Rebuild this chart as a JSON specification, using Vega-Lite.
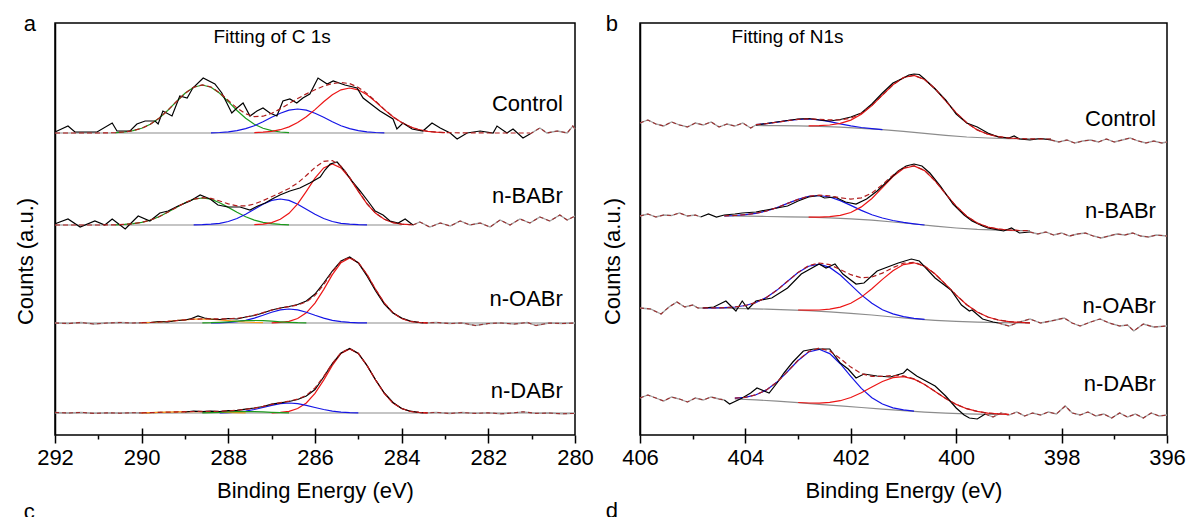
{
"$schema":"https://vega.github.io/schema/vega-lite/v6.json",
"padding":{"left":13,"top":12,"right":0,"bottom":0},
"spacing":5,
"config":{"view":{"stroke":"black","strokeWidth":1.5},"axis":{"labelFont":"Liberation Sans","titleFont":"Liberation Sans"},"text":{"font":"Liberation Sans","color":"black"}},
"datasets":{
"a":[
{"c":"bg","s":"C","x":292,"y":302},{"c":"bg","s":"C","x":283.5,"y":302},
{"c":"bg","s":"B","x":292,"y":210},{"c":"bg","s":"B","x":284,"y":210},
{"c":"bg","s":"O","x":292,"y":112},{"c":"bg","s":"O","x":280,"y":112},
{"c":"bg","s":"D","x":292,"y":22},{"c":"bg","s":"D","x":280,"y":22},
{"c":"raw","s":"C","x":292.0,"y":303},{"c":"raw","s":"C","x":291.95,"y":304},{"c":"raw","s":"C","x":291.7,"y":309},{"c":"raw","s":"C","x":291.54,"y":303},{"c":"raw","s":"C","x":291.28,"y":303},{"c":"raw","s":"C","x":291.03,"y":303},{"c":"raw","s":"C","x":290.68,"y":312},{"c":"raw","s":"C","x":290.57,"y":304},{"c":"raw","s":"C","x":290.27,"y":304},{"c":"raw","s":"C","x":290.11,"y":311},{"c":"raw","s":"C","x":289.92,"y":314},{"c":"raw","s":"C","x":289.69,"y":314},{"c":"raw","s":"C","x":289.62,"y":311},{"c":"raw","s":"C","x":289.51,"y":324},{"c":"raw","s":"C","x":289.3,"y":319},{"c":"raw","s":"C","x":289.12,"y":339},{"c":"raw","s":"C","x":288.95,"y":337},{"c":"raw","s":"C","x":288.82,"y":347},{"c":"raw","s":"C","x":288.58,"y":357},{"c":"raw","s":"C","x":288.31,"y":351},{"c":"raw","s":"C","x":288.15,"y":342},{"c":"raw","s":"C","x":287.92,"y":322},{"c":"raw","s":"C","x":287.8,"y":327},{"c":"raw","s":"C","x":287.66,"y":332},{"c":"raw","s":"C","x":287.5,"y":319},{"c":"raw","s":"C","x":287.34,"y":324},{"c":"raw","s":"C","x":287.2,"y":327},{"c":"raw","s":"C","x":287.04,"y":322},{"c":"raw","s":"C","x":286.88,"y":319},{"c":"raw","s":"C","x":286.74,"y":334},{"c":"raw","s":"C","x":286.58,"y":336},{"c":"raw","s":"C","x":286.42,"y":332},{"c":"raw","s":"C","x":286.28,"y":337},{"c":"raw","s":"C","x":286.12,"y":341},{"c":"raw","s":"C","x":285.93,"y":357},{"c":"raw","s":"C","x":285.72,"y":351},{"c":"raw","s":"C","x":285.58,"y":354},{"c":"raw","s":"C","x":285.31,"y":350},{"c":"raw","s":"C","x":285.03,"y":347},{"c":"raw","s":"C","x":284.89,"y":337},{"c":"raw","s":"C","x":284.5,"y":324},{"c":"raw","s":"C","x":284.2,"y":316},{"c":"raw","s":"C","x":284.11,"y":306},{"c":"raw","s":"C","x":283.97,"y":312},{"c":"raw","s":"C","x":283.76,"y":306},{"c":"raw","s":"C","x":283.51,"y":304},{"c":"raw","s":"C","x":283.3,"y":312},{"c":"raw","s":"C","x":283.11,"y":307},{"c":"raw","s":"C","x":282.88,"y":302},{"c":"raw","s":"C","x":282.72,"y":296},{"c":"raw","s":"C","x":282.49,"y":302},{"c":"raw","s":"C","x":282.19,"y":304},{"c":"raw","s":"C","x":281.89,"y":302},{"c":"raw","s":"C","x":281.8,"y":309},{"c":"raw","s":"C","x":281.57,"y":302},{"c":"raw","s":"C","x":281.43,"y":306},{"c":"raw","s":"C","x":281.2,"y":297},{"c":"raw","s":"C","x":281.04,"y":301},
{"c":"out","s":"C2","x":281.04,"y":301},{"c":"out","s":"C2","x":280.81,"y":307},{"c":"out","s":"C2","x":280.65,"y":302},{"c":"out","s":"C2","x":280.41,"y":304},{"c":"out","s":"C2","x":280.18,"y":302},{"c":"out","s":"C2","x":280.05,"y":309},{"c":"out","s":"C2","x":280.0,"y":306},
{"c":"g","s":"C","x":290.6,"y":302.4},{"c":"g","s":"C","x":290.4,"y":303.0},{"c":"g","s":"C","x":290.2,"y":304.3},{"c":"g","s":"C","x":290.0,"y":306.7},{"c":"g","s":"C","x":289.8,"y":310.7},{"c":"g","s":"C","x":289.6,"y":316.7},{"c":"g","s":"C","x":289.4,"y":324.5},{"c":"g","s":"C","x":289.2,"y":333.3},{"c":"g","s":"C","x":289.0,"y":341.7},{"c":"g","s":"C","x":288.8,"y":347.8},{"c":"g","s":"C","x":288.6,"y":350},{"c":"g","s":"C","x":288.4,"y":347.8},{"c":"g","s":"C","x":288.2,"y":341.7},{"c":"g","s":"C","x":288.0,"y":333.3},{"c":"g","s":"C","x":287.8,"y":324.5},{"c":"g","s":"C","x":287.6,"y":316.7},{"c":"g","s":"C","x":287.4,"y":310.7},{"c":"g","s":"C","x":287.2,"y":306.7},{"c":"g","s":"C","x":287.0,"y":304.3},{"c":"g","s":"C","x":286.8,"y":303.0},{"c":"g","s":"C","x":286.6,"y":302.4},
{"c":"b","s":"C","x":288.4,"y":302.2},{"c":"b","s":"C","x":288.2,"y":302.5},{"c":"b","s":"C","x":288.0,"y":303.2},{"c":"b","s":"C","x":287.8,"y":304.4},{"c":"b","s":"C","x":287.6,"y":306.4},{"c":"b","s":"C","x":287.4,"y":309.3},{"c":"b","s":"C","x":287.2,"y":313.3},{"c":"b","s":"C","x":287.0,"y":317.7},{"c":"b","s":"C","x":286.8,"y":321.8},{"c":"b","s":"C","x":286.6,"y":324.9},{"c":"b","s":"C","x":286.4,"y":326},{"c":"b","s":"C","x":286.2,"y":324.9},{"c":"b","s":"C","x":286.0,"y":321.8},{"c":"b","s":"C","x":285.8,"y":317.7},{"c":"b","s":"C","x":285.6,"y":313.3},{"c":"b","s":"C","x":285.4,"y":309.3},{"c":"b","s":"C","x":285.2,"y":306.4},{"c":"b","s":"C","x":285.0,"y":304.4},{"c":"b","s":"C","x":284.8,"y":303.2},{"c":"b","s":"C","x":284.6,"y":302.5},{"c":"b","s":"C","x":284.4,"y":302.2},
{"c":"r","s":"C","x":287.4,"y":302.3},{"c":"r","s":"C","x":287.2,"y":302.8},{"c":"r","s":"C","x":287.0,"y":303.7},{"c":"r","s":"C","x":286.8,"y":305.3},{"c":"r","s":"C","x":286.6,"y":308.1},{"c":"r","s":"C","x":286.4,"y":312.4},{"c":"r","s":"C","x":286.2,"y":318.2},{"c":"r","s":"C","x":286.0,"y":325.4},{"c":"r","s":"C","x":285.8,"y":333.2},{"c":"r","s":"C","x":285.6,"y":340.2},{"c":"r","s":"C","x":285.4,"y":345.2},{"c":"r","s":"C","x":285.2,"y":347},{"c":"r","s":"C","x":285.0,"y":345.2},{"c":"r","s":"C","x":284.8,"y":340.2},{"c":"r","s":"C","x":284.6,"y":333.2},{"c":"r","s":"C","x":284.4,"y":325.4},{"c":"r","s":"C","x":284.2,"y":318.2},{"c":"r","s":"C","x":284.0,"y":312.4},{"c":"r","s":"C","x":283.8,"y":308.1},{"c":"r","s":"C","x":283.6,"y":305.3},{"c":"r","s":"C","x":283.4,"y":303.7},{"c":"r","s":"C","x":283.2,"y":302.8},{"c":"r","s":"C","x":283.0,"y":302.3},
{"c":"env","s":"C","x":292,"y":302},{"c":"env","s":"C","x":291,"y":302},{"c":"env","s":"C","x":290.8,"y":302.1},{"c":"env","s":"C","x":290.6,"y":302.4},{"c":"env","s":"C","x":290.4,"y":303.0},{"c":"env","s":"C","x":290.2,"y":304.3},{"c":"env","s":"C","x":290.0,"y":306.7},{"c":"env","s":"C","x":289.8,"y":310.7},{"c":"env","s":"C","x":289.6,"y":316.7},{"c":"env","s":"C","x":289.4,"y":324.5},{"c":"env","s":"C","x":289.2,"y":333.3},{"c":"env","s":"C","x":289.0,"y":341.7},{"c":"env","s":"C","x":288.8,"y":347.8},{"c":"env","s":"C","x":288.6,"y":350.1},{"c":"env","s":"C","x":288.4,"y":348.0},{"c":"env","s":"C","x":288.2,"y":342.2},{"c":"env","s":"C","x":288.0,"y":334.5},{"c":"env","s":"C","x":287.8,"y":326.9},{"c":"env","s":"C","x":287.6,"y":321.2},{"c":"env","s":"C","x":287.4,"y":318.3},{"c":"env","s":"C","x":287.2,"y":318.8},{"c":"env","s":"C","x":287.0,"y":321.7},{"c":"env","s":"C","x":286.8,"y":326.1},{"c":"env","s":"C","x":286.6,"y":331.4},{"c":"env","s":"C","x":286.4,"y":336.5},{"c":"env","s":"C","x":286.2,"y":341.1},{"c":"env","s":"C","x":286.0,"y":345.2},{"c":"env","s":"C","x":285.8,"y":348.9},{"c":"env","s":"C","x":285.6,"y":351.5},{"c":"env","s":"C","x":285.4,"y":352.5},{"c":"env","s":"C","x":285.2,"y":351.4},{"c":"env","s":"C","x":285.0,"y":347.6},{"c":"env","s":"C","x":284.8,"y":341.4},{"c":"env","s":"C","x":284.6,"y":333.7},{"c":"env","s":"C","x":284.4,"y":325.6},{"c":"env","s":"C","x":284.2,"y":318.2},{"c":"env","s":"C","x":284.0,"y":312.4},{"c":"env","s":"C","x":283.8,"y":308.1},{"c":"env","s":"C","x":283.6,"y":305.3},{"c":"env","s":"C","x":283.4,"y":303.7},{"c":"env","s":"C","x":283.2,"y":302.8},{"c":"env","s":"C","x":283.0,"y":302.3},{"c":"env","s":"C","x":282.0,"y":302},{"c":"env","s":"C","x":281.04,"y":302},
{"c":"raw","s":"B","x":292.0,"y":211},{"c":"raw","s":"B","x":291.95,"y":212},{"c":"raw","s":"B","x":291.7,"y":216},{"c":"raw","s":"B","x":291.42,"y":208},{"c":"raw","s":"B","x":291.08,"y":214},{"c":"raw","s":"B","x":290.85,"y":210},{"c":"raw","s":"B","x":290.68,"y":216},{"c":"raw","s":"B","x":290.38,"y":206},{"c":"raw","s":"B","x":290.08,"y":219},{"c":"raw","s":"B","x":289.81,"y":214},{"c":"raw","s":"B","x":289.58,"y":222},{"c":"raw","s":"B","x":289.39,"y":224},{"c":"raw","s":"B","x":289.16,"y":229},{"c":"raw","s":"B","x":288.88,"y":234},{"c":"raw","s":"B","x":288.65,"y":240},{"c":"raw","s":"B","x":288.42,"y":236},{"c":"raw","s":"B","x":288.24,"y":230},{"c":"raw","s":"B","x":288.01,"y":228},{"c":"raw","s":"B","x":287.73,"y":228},{"c":"raw","s":"B","x":287.5,"y":225},{"c":"raw","s":"B","x":287.32,"y":229},{"c":"raw","s":"B","x":287.15,"y":232},{"c":"raw","s":"B","x":286.99,"y":236},{"c":"raw","s":"B","x":286.81,"y":240},{"c":"raw","s":"B","x":286.58,"y":244},{"c":"raw","s":"B","x":286.35,"y":247},{"c":"raw","s":"B","x":286.12,"y":252},{"c":"raw","s":"B","x":285.88,"y":258},{"c":"raw","s":"B","x":285.77,"y":265},{"c":"raw","s":"B","x":285.65,"y":271},{"c":"raw","s":"B","x":285.49,"y":273},{"c":"raw","s":"B","x":285.31,"y":264},{"c":"raw","s":"B","x":285.15,"y":254},{"c":"raw","s":"B","x":284.96,"y":244},{"c":"raw","s":"B","x":284.78,"y":234},{"c":"raw","s":"B","x":284.61,"y":224},{"c":"raw","s":"B","x":284.43,"y":220},{"c":"raw","s":"B","x":284.27,"y":214},{"c":"raw","s":"B","x":284.08,"y":212},{"c":"raw","s":"B","x":283.92,"y":216},{"c":"raw","s":"B","x":283.74,"y":210},
{"c":"out","s":"B2","x":283.74,"y":210},{"c":"out","s":"B2","x":283.58,"y":213},{"c":"out","s":"B2","x":283.35,"y":208},{"c":"out","s":"B2","x":283.11,"y":212},{"c":"out","s":"B2","x":282.88,"y":209},{"c":"out","s":"B2","x":282.65,"y":214},{"c":"out","s":"B2","x":282.42,"y":210},{"c":"out","s":"B2","x":282.19,"y":212},{"c":"out","s":"B2","x":281.96,"y":208},{"c":"out","s":"B2","x":281.73,"y":215},{"c":"out","s":"B2","x":281.5,"y":210},{"c":"out","s":"B2","x":281.27,"y":216},{"c":"out","s":"B2","x":281.04,"y":212},{"c":"out","s":"B2","x":280.81,"y":218},{"c":"out","s":"B2","x":280.58,"y":214},{"c":"out","s":"B2","x":280.35,"y":220},{"c":"out","s":"B2","x":280.18,"y":215},{"c":"out","s":"B2","x":280.0,"y":219},
{"c":"g","s":"B","x":290.6,"y":210.2},{"c":"g","s":"B","x":290.4,"y":210.6},{"c":"g","s":"B","x":290.2,"y":211.3},{"c":"g","s":"B","x":290.0,"y":212.6},{"c":"g","s":"B","x":289.8,"y":214.9},{"c":"g","s":"B","x":289.6,"y":218.3},{"c":"g","s":"B","x":289.4,"y":222.7},{"c":"g","s":"B","x":289.2,"y":227.6},{"c":"g","s":"B","x":289.0,"y":232.3},{"c":"g","s":"B","x":288.8,"y":235.8},{"c":"g","s":"B","x":288.6,"y":237},{"c":"g","s":"B","x":288.4,"y":235.8},{"c":"g","s":"B","x":288.2,"y":232.3},{"c":"g","s":"B","x":288.0,"y":227.6},{"c":"g","s":"B","x":287.8,"y":222.7},{"c":"g","s":"B","x":287.6,"y":218.3},{"c":"g","s":"B","x":287.4,"y":214.9},{"c":"g","s":"B","x":287.2,"y":212.6},{"c":"g","s":"B","x":287.0,"y":211.3},{"c":"g","s":"B","x":286.8,"y":210.6},{"c":"g","s":"B","x":286.6,"y":210.2},
{"c":"b","s":"B","x":288.8,"y":210.1},{"c":"b","s":"B","x":288.6,"y":210.3},{"c":"b","s":"B","x":288.4,"y":210.8},{"c":"b","s":"B","x":288.2,"y":211.7},{"c":"b","s":"B","x":288.0,"y":213.5},{"c":"b","s":"B","x":287.8,"y":216.5},{"c":"b","s":"B","x":287.6,"y":220.7},{"c":"b","s":"B","x":287.4,"y":225.8},{"c":"b","s":"B","x":287.2,"y":230.8},{"c":"b","s":"B","x":287.0,"y":234.6},{"c":"b","s":"B","x":286.8,"y":236},{"c":"b","s":"B","x":286.6,"y":234.6},{"c":"b","s":"B","x":286.4,"y":230.8},{"c":"b","s":"B","x":286.2,"y":225.8},{"c":"b","s":"B","x":286.0,"y":220.7},{"c":"b","s":"B","x":285.8,"y":216.5},{"c":"b","s":"B","x":285.6,"y":213.5},{"c":"b","s":"B","x":285.4,"y":211.7},{"c":"b","s":"B","x":285.2,"y":210.8},{"c":"b","s":"B","x":285.0,"y":210.3},{"c":"b","s":"B","x":284.8,"y":210.1},
{"c":"r","s":"B","x":287.4,"y":210.3},{"c":"r","s":"B","x":287.2,"y":210.9},{"c":"r","s":"B","x":287.0,"y":212.4},{"c":"r","s":"B","x":286.8,"y":215.7},{"c":"r","s":"B","x":286.6,"y":221.7},{"c":"r","s":"B","x":286.4,"y":231.2},{"c":"r","s":"B","x":286.2,"y":243.7},{"c":"r","s":"B","x":286.0,"y":256.8},{"c":"r","s":"B","x":285.8,"y":267.1},{"c":"r","s":"B","x":285.6,"y":271},{"c":"r","s":"B","x":285.4,"y":267.1},{"c":"r","s":"B","x":285.2,"y":256.8},{"c":"r","s":"B","x":285.0,"y":243.7},{"c":"r","s":"B","x":284.8,"y":231.2},{"c":"r","s":"B","x":284.6,"y":221.7},{"c":"r","s":"B","x":284.4,"y":215.7},{"c":"r","s":"B","x":284.2,"y":212.4},{"c":"r","s":"B","x":284.0,"y":210.9},{"c":"r","s":"B","x":283.8,"y":210.3},
{"c":"env","s":"B","x":292,"y":210},{"c":"env","s":"B","x":291,"y":210},{"c":"env","s":"B","x":290.8,"y":210.1},{"c":"env","s":"B","x":290.6,"y":210.2},{"c":"env","s":"B","x":290.4,"y":210.6},{"c":"env","s":"B","x":290.2,"y":211.3},{"c":"env","s":"B","x":290.0,"y":212.6},{"c":"env","s":"B","x":289.8,"y":214.9},{"c":"env","s":"B","x":289.6,"y":218.3},{"c":"env","s":"B","x":289.4,"y":222.7},{"c":"env","s":"B","x":289.2,"y":227.6},{"c":"env","s":"B","x":289.0,"y":232.3},{"c":"env","s":"B","x":288.8,"y":235.8},{"c":"env","s":"B","x":288.6,"y":237.3},{"c":"env","s":"B","x":288.4,"y":236.6},{"c":"env","s":"B","x":288.2,"y":234.0},{"c":"env","s":"B","x":288.0,"y":231.1},{"c":"env","s":"B","x":287.8,"y":229.2},{"c":"env","s":"B","x":287.6,"y":229.1},{"c":"env","s":"B","x":287.4,"y":231.0},{"c":"env","s":"B","x":287.2,"y":234.3},{"c":"env","s":"B","x":287.0,"y":238.3},{"c":"env","s":"B","x":286.8,"y":242.3},{"c":"env","s":"B","x":286.6,"y":246.5},{"c":"env","s":"B","x":286.4,"y":252.1},{"c":"env","s":"B","x":286.2,"y":259.5},{"c":"env","s":"B","x":286.0,"y":267.5},{"c":"env","s":"B","x":285.8,"y":273.6},{"c":"env","s":"B","x":285.6,"y":274.5},{"c":"env","s":"B","x":285.4,"y":268.8},{"c":"env","s":"B","x":285.2,"y":257.6},{"c":"env","s":"B","x":285.0,"y":244.0},{"c":"env","s":"B","x":284.8,"y":231.3},{"c":"env","s":"B","x":284.6,"y":221.7},{"c":"env","s":"B","x":284.4,"y":215.7},{"c":"env","s":"B","x":284.2,"y":212.4},{"c":"env","s":"B","x":284.0,"y":210.9},{"c":"env","s":"B","x":283.8,"y":210.3},{"c":"env","s":"B","x":283.74,"y":210},
{"c":"out","s":"O1","x":292.0,"y":112},{"c":"out","s":"O1","x":291.7,"y":111.5},{"c":"out","s":"O1","x":291.4,"y":112.5},{"c":"out","s":"O1","x":291.1,"y":111},{"c":"out","s":"O1","x":290.8,"y":112},{"c":"out","s":"O1","x":290.5,"y":112.5},{"c":"out","s":"O1","x":290.2,"y":112},{"c":"out","s":"O1","x":289.8,"y":112.5},
{"c":"raw","s":"O","x":289.8,"y":112.5},{"c":"raw","s":"O","x":289.6,"y":113.5},{"c":"raw","s":"O","x":289.4,"y":113},{"c":"raw","s":"O","x":289.2,"y":114.5},{"c":"raw","s":"O","x":289.0,"y":115},{"c":"raw","s":"O","x":288.85,"y":116.5},{"c":"raw","s":"O","x":288.7,"y":119},{"c":"raw","s":"O","x":288.55,"y":117},{"c":"raw","s":"O","x":288.4,"y":116},{"c":"raw","s":"O","x":288.2,"y":115.5},{"c":"raw","s":"O","x":288.0,"y":116.5},{"c":"raw","s":"O","x":287.8,"y":116},{"c":"raw","s":"O","x":287.6,"y":118},{"c":"raw","s":"O","x":287.4,"y":119.5},{"c":"raw","s":"O","x":287.2,"y":122},{"c":"raw","s":"O","x":287.0,"y":125},{"c":"raw","s":"O","x":286.8,"y":127},{"c":"raw","s":"O","x":286.6,"y":128.5},{"c":"raw","s":"O","x":286.4,"y":130.5},{"c":"raw","s":"O","x":286.2,"y":134},{"c":"raw","s":"O","x":286.0,"y":141},{"c":"raw","s":"O","x":285.8,"y":152},{"c":"raw","s":"O","x":285.6,"y":164},{"c":"raw","s":"O","x":285.4,"y":174},{"c":"raw","s":"O","x":285.2,"y":178},{"c":"raw","s":"O","x":285.0,"y":172},{"c":"raw","s":"O","x":284.8,"y":159},{"c":"raw","s":"O","x":284.6,"y":144},{"c":"raw","s":"O","x":284.4,"y":131},{"c":"raw","s":"O","x":284.2,"y":122},{"c":"raw","s":"O","x":284.0,"y":117},{"c":"raw","s":"O","x":283.8,"y":114},{"c":"raw","s":"O","x":283.6,"y":112.5},{"c":"raw","s":"O","x":283.5,"y":112},
{"c":"out","s":"O2","x":283.5,"y":112},{"c":"out","s":"O2","x":283.2,"y":112.5},{"c":"out","s":"O2","x":282.9,"y":111.5},{"c":"out","s":"O2","x":282.6,"y":112},{"c":"out","s":"O2","x":282.3,"y":109.5},{"c":"out","s":"O2","x":282.0,"y":111.5},{"c":"out","s":"O2","x":281.7,"y":112},{"c":"out","s":"O2","x":281.4,"y":111},{"c":"out","s":"O2","x":281.1,"y":112.5},{"c":"out","s":"O2","x":280.9,"y":109.5},{"c":"out","s":"O2","x":280.6,"y":112},{"c":"out","s":"O2","x":280.3,"y":111.5},{"c":"out","s":"O2","x":280.0,"y":112},
{"c":"r","s":"O","x":287.0,"y":112.2},{"c":"r","s":"O","x":286.8,"y":112.6},{"c":"r","s":"O","x":286.6,"y":113.7},{"c":"r","s":"O","x":286.4,"y":116.5},{"c":"r","s":"O","x":286.2,"y":122.2},{"c":"r","s":"O","x":286.0,"y":131.9},{"c":"r","s":"O","x":285.8,"y":145.4},{"c":"r","s":"O","x":285.6,"y":160.4},{"c":"r","s":"O","x":285.4,"y":172.4},{"c":"r","s":"O","x":285.2,"y":177},{"c":"r","s":"O","x":285.0,"y":172.4},{"c":"r","s":"O","x":284.8,"y":160.4},{"c":"r","s":"O","x":284.6,"y":145.4},{"c":"r","s":"O","x":284.4,"y":131.9},{"c":"r","s":"O","x":284.2,"y":122.2},{"c":"r","s":"O","x":284.0,"y":116.5},{"c":"r","s":"O","x":283.8,"y":113.7},{"c":"r","s":"O","x":283.6,"y":112.6},{"c":"r","s":"O","x":283.4,"y":112.2},
{"c":"b","s":"O","x":288.4,"y":112.1},{"c":"b","s":"O","x":288.2,"y":112.2},{"c":"b","s":"O","x":288.0,"y":112.6},{"c":"b","s":"O","x":287.8,"y":113.3},{"c":"b","s":"O","x":287.6,"y":114.7},{"c":"b","s":"O","x":287.4,"y":116.9},{"c":"b","s":"O","x":287.2,"y":119.7},{"c":"b","s":"O","x":287.0,"y":122.8},{"c":"b","s":"O","x":286.8,"y":125.1},{"c":"b","s":"O","x":286.6,"y":126},{"c":"b","s":"O","x":286.4,"y":125.1},{"c":"b","s":"O","x":286.2,"y":122.8},{"c":"b","s":"O","x":286.0,"y":119.7},{"c":"b","s":"O","x":285.8,"y":116.9},{"c":"b","s":"O","x":285.6,"y":114.7},{"c":"b","s":"O","x":285.4,"y":113.3},{"c":"b","s":"O","x":285.2,"y":112.6},{"c":"b","s":"O","x":285.0,"y":112.2},{"c":"b","s":"O","x":284.8,"y":112.1},
{"c":"o","s":"O","x":290.0,"y":112.3},{"c":"o","s":"O","x":289.8,"y":112.5},{"c":"o","s":"O","x":289.6,"y":113.0},{"c":"o","s":"O","x":289.4,"y":113.6},{"c":"o","s":"O","x":289.2,"y":114.4},{"c":"o","s":"O","x":289.0,"y":115.2},{"c":"o","s":"O","x":288.8,"y":115.8},{"c":"o","s":"O","x":288.6,"y":116},{"c":"o","s":"O","x":288.4,"y":115.8},{"c":"o","s":"O","x":288.2,"y":115.2},{"c":"o","s":"O","x":288.0,"y":114.4},{"c":"o","s":"O","x":287.8,"y":113.6},{"c":"o","s":"O","x":287.6,"y":113.0},{"c":"o","s":"O","x":287.4,"y":112.5},{"c":"o","s":"O","x":287.2,"y":112.3},
{"c":"g","s":"O","x":288.6,"y":112.1},{"c":"g","s":"O","x":288.4,"y":112.3},{"c":"g","s":"O","x":288.2,"y":112.7},{"c":"g","s":"O","x":288.0,"y":113.2},{"c":"g","s":"O","x":287.8,"y":113.8},{"c":"g","s":"O","x":287.6,"y":114.3},{"c":"g","s":"O","x":287.4,"y":114.5},{"c":"g","s":"O","x":287.2,"y":114.3},{"c":"g","s":"O","x":287.0,"y":113.8},{"c":"g","s":"O","x":286.8,"y":113.2},{"c":"g","s":"O","x":286.6,"y":112.7},{"c":"g","s":"O","x":286.4,"y":112.3},{"c":"g","s":"O","x":286.2,"y":112.1},
{"c":"env","s":"O","x":290.0,"y":112.3},{"c":"env","s":"O","x":289.8,"y":112.5},{"c":"env","s":"O","x":289.6,"y":113.0},{"c":"env","s":"O","x":289.4,"y":113.6},{"c":"env","s":"O","x":289.2,"y":114.4},{"c":"env","s":"O","x":289.0,"y":115.2},{"c":"env","s":"O","x":288.8,"y":115.8},{"c":"env","s":"O","x":288.6,"y":116.1},{"c":"env","s":"O","x":288.4,"y":116.2},{"c":"env","s":"O","x":288.2,"y":116.1},{"c":"env","s":"O","x":288.0,"y":116.2},{"c":"env","s":"O","x":287.8,"y":116.7},{"c":"env","s":"O","x":287.6,"y":118.0},{"c":"env","s":"O","x":287.4,"y":119.9},{"c":"env","s":"O","x":287.2,"y":122.3},{"c":"env","s":"O","x":287.0,"y":124.9},{"c":"env","s":"O","x":286.8,"y":126.9},{"c":"env","s":"O","x":286.6,"y":128.4},{"c":"env","s":"O","x":286.4,"y":129.9},{"c":"env","s":"O","x":286.2,"y":133.1},{"c":"env","s":"O","x":286.0,"y":139.6},{"c":"env","s":"O","x":285.8,"y":150.3},{"c":"env","s":"O","x":285.6,"y":163.1},{"c":"env","s":"O","x":285.4,"y":173.7},{"c":"env","s":"O","x":285.2,"y":177.6},{"c":"env","s":"O","x":285.0,"y":172.6},{"c":"env","s":"O","x":284.8,"y":160.4},{"c":"env","s":"O","x":284.6,"y":145.4},{"c":"env","s":"O","x":284.4,"y":131.9},{"c":"env","s":"O","x":284.2,"y":122.2},{"c":"env","s":"O","x":284.0,"y":116.5},{"c":"env","s":"O","x":283.8,"y":113.7},{"c":"env","s":"O","x":283.6,"y":112.6},{"c":"env","s":"O","x":283.4,"y":112.2},
{"c":"out","s":"D1","x":292.0,"y":22.5},{"c":"out","s":"D1","x":291.7,"y":22},{"c":"out","s":"D1","x":291.4,"y":22.6},{"c":"out","s":"D1","x":291.1,"y":21.6},{"c":"out","s":"D1","x":290.8,"y":22.2},{"c":"out","s":"D1","x":290.5,"y":21.8},{"c":"out","s":"D1","x":290.2,"y":22.3},{"c":"out","s":"D1","x":289.9,"y":22},{"c":"out","s":"D1","x":289.6,"y":22.6},{"c":"out","s":"D1","x":289.3,"y":22.5},{"c":"out","s":"D1","x":289.0,"y":23},
{"c":"raw","s":"D","x":289.0,"y":23},{"c":"raw","s":"D","x":288.8,"y":23.8},{"c":"raw","s":"D","x":288.6,"y":23.3},{"c":"raw","s":"D","x":288.4,"y":23.8},{"c":"raw","s":"D","x":288.2,"y":23.5},{"c":"raw","s":"D","x":288.0,"y":24.3},{"c":"raw","s":"D","x":287.8,"y":24.6},{"c":"raw","s":"D","x":287.6,"y":25.8},{"c":"raw","s":"D","x":287.4,"y":27},{"c":"raw","s":"D","x":287.2,"y":28.5},{"c":"raw","s":"D","x":287.0,"y":30.8},{"c":"raw","s":"D","x":286.8,"y":32.2},{"c":"raw","s":"D","x":286.6,"y":33.5},{"c":"raw","s":"D","x":286.4,"y":35.5},{"c":"raw","s":"D","x":286.2,"y":39},{"c":"raw","s":"D","x":286.0,"y":45.5},{"c":"raw","s":"D","x":285.8,"y":58},{"c":"raw","s":"D","x":285.6,"y":71.5},{"c":"raw","s":"D","x":285.4,"y":82},{"c":"raw","s":"D","x":285.2,"y":86.5},{"c":"raw","s":"D","x":285.0,"y":81.5},{"c":"raw","s":"D","x":284.8,"y":69.5},{"c":"raw","s":"D","x":284.6,"y":55},{"c":"raw","s":"D","x":284.4,"y":42},{"c":"raw","s":"D","x":284.2,"y":32.5},{"c":"raw","s":"D","x":284.0,"y":26.5},{"c":"raw","s":"D","x":283.8,"y":23.8},{"c":"raw","s":"D","x":283.6,"y":22.5},{"c":"raw","s":"D","x":283.5,"y":22},
{"c":"out","s":"D2","x":283.5,"y":22},{"c":"out","s":"D2","x":283.2,"y":22.6},{"c":"out","s":"D2","x":282.9,"y":21.5},{"c":"out","s":"D2","x":282.6,"y":22.5},{"c":"out","s":"D2","x":282.3,"y":21.6},{"c":"out","s":"D2","x":282.0,"y":22.2},{"c":"out","s":"D2","x":281.7,"y":21.2},{"c":"out","s":"D2","x":281.4,"y":22.2},{"c":"out","s":"D2","x":281.2,"y":23.2},{"c":"out","s":"D2","x":280.9,"y":21.6},{"c":"out","s":"D2","x":280.6,"y":22},{"c":"out","s":"D2","x":280.3,"y":21.2},{"c":"out","s":"D2","x":280.0,"y":21.6},
{"c":"r","s":"D","x":287.0,"y":22.2},{"c":"r","s":"D","x":286.8,"y":22.6},{"c":"r","s":"D","x":286.6,"y":23.7},{"c":"r","s":"D","x":286.4,"y":26.5},{"c":"r","s":"D","x":286.2,"y":32.0},{"c":"r","s":"D","x":286.0,"y":41.6},{"c":"r","s":"D","x":285.8,"y":54.9},{"c":"r","s":"D","x":285.6,"y":69.6},{"c":"r","s":"D","x":285.4,"y":81.5},{"c":"r","s":"D","x":285.2,"y":86},{"c":"r","s":"D","x":285.0,"y":81.5},{"c":"r","s":"D","x":284.8,"y":69.6},{"c":"r","s":"D","x":284.6,"y":54.9},{"c":"r","s":"D","x":284.4,"y":41.6},{"c":"r","s":"D","x":284.2,"y":32.0},{"c":"r","s":"D","x":284.0,"y":26.5},{"c":"r","s":"D","x":283.8,"y":23.7},{"c":"r","s":"D","x":283.6,"y":22.6},{"c":"r","s":"D","x":283.4,"y":22.2},
{"c":"b","s":"D","x":288.2,"y":22.15},{"c":"b","s":"D","x":288.0,"y":22.4},{"c":"b","s":"D","x":287.8,"y":22.9},{"c":"b","s":"D","x":287.6,"y":23.9},{"c":"b","s":"D","x":287.4,"y":25.5},{"c":"b","s":"D","x":287.2,"y":27.5},{"c":"b","s":"D","x":287.0,"y":29.7},{"c":"b","s":"D","x":286.8,"y":31.4},{"c":"b","s":"D","x":286.6,"y":32},{"c":"b","s":"D","x":286.4,"y":31.4},{"c":"b","s":"D","x":286.2,"y":29.7},{"c":"b","s":"D","x":286.0,"y":27.5},{"c":"b","s":"D","x":285.8,"y":25.5},{"c":"b","s":"D","x":285.6,"y":23.9},{"c":"b","s":"D","x":285.4,"y":22.9},{"c":"b","s":"D","x":285.2,"y":22.4},{"c":"b","s":"D","x":285.0,"y":22.15},
{"c":"o","s":"D","x":290.0,"y":22.2},{"c":"o","s":"D","x":289.8,"y":22.4},{"c":"o","s":"D","x":289.6,"y":22.6},{"c":"o","s":"D","x":289.4,"y":22.9},{"c":"o","s":"D","x":289.2,"y":23.2},{"c":"o","s":"D","x":289.0,"y":23.4},{"c":"o","s":"D","x":288.8,"y":23.5},{"c":"o","s":"D","x":288.6,"y":23.4},{"c":"o","s":"D","x":288.4,"y":23.2},{"c":"o","s":"D","x":288.2,"y":22.9},{"c":"o","s":"D","x":288.0,"y":22.6},{"c":"o","s":"D","x":287.8,"y":22.4},{"c":"o","s":"D","x":287.6,"y":22.2},
{"c":"g","s":"D","x":288.6,"y":22.2},{"c":"g","s":"D","x":288.4,"y":22.4},{"c":"g","s":"D","x":288.2,"y":22.7},{"c":"g","s":"D","x":288.0,"y":23.1},{"c":"g","s":"D","x":287.8,"y":23.4},{"c":"g","s":"D","x":287.6,"y":23.5},{"c":"g","s":"D","x":287.4,"y":23.4},{"c":"g","s":"D","x":287.2,"y":23.1},{"c":"g","s":"D","x":287.0,"y":22.7},{"c":"g","s":"D","x":286.8,"y":22.4},{"c":"g","s":"D","x":286.6,"y":22.2},
{"c":"env","s":"D","x":290.0,"y":22.2},{"c":"env","s":"D","x":289.8,"y":22.4},{"c":"env","s":"D","x":289.6,"y":22.6},{"c":"env","s":"D","x":289.4,"y":22.9},{"c":"env","s":"D","x":289.2,"y":23.2},{"c":"env","s":"D","x":289.0,"y":23.4},{"c":"env","s":"D","x":288.8,"y":23.5},{"c":"env","s":"D","x":288.6,"y":23.6},{"c":"env","s":"D","x":288.4,"y":23.6},{"c":"env","s":"D","x":288.2,"y":23.75},{"c":"env","s":"D","x":288.0,"y":24.1},{"c":"env","s":"D","x":287.8,"y":24.7},{"c":"env","s":"D","x":287.6,"y":25.6},{"c":"env","s":"D","x":287.4,"y":26.9},{"c":"env","s":"D","x":287.2,"y":28.6},{"c":"env","s":"D","x":287.0,"y":30.6},{"c":"env","s":"D","x":286.8,"y":32.4},{"c":"env","s":"D","x":286.6,"y":33.9},{"c":"env","s":"D","x":286.4,"y":35.9},{"c":"env","s":"D","x":286.2,"y":39.7},{"c":"env","s":"D","x":286.0,"y":47.1},{"c":"env","s":"D","x":285.8,"y":58.4},{"c":"env","s":"D","x":285.6,"y":71.5},{"c":"env","s":"D","x":285.4,"y":82.4},{"c":"env","s":"D","x":285.2,"y":86.4},{"c":"env","s":"D","x":285.0,"y":81.7},{"c":"env","s":"D","x":284.8,"y":69.6},{"c":"env","s":"D","x":284.6,"y":54.9},{"c":"env","s":"D","x":284.4,"y":41.6},{"c":"env","s":"D","x":284.2,"y":32.0},{"c":"env","s":"D","x":284.0,"y":26.5},{"c":"env","s":"D","x":283.8,"y":23.7},{"c":"env","s":"D","x":283.6,"y":22.6},{"c":"env","s":"D","x":283.4,"y":22.2},
{"c":"lab","x":280.28,"y":331,"t":"Control"},{"c":"lab","x":280.28,"y":239,"t":"n-BABr"},{"c":"lab","x":280.28,"y":136,"t":"n-OABr"},{"c":"lab","x":280.28,"y":44,"t":"n-DABr"},
{"c":"ttl","x":286.99,"y":398,"t":"Fitting of C 1s"},
{"c":"let","x":292.72,"y":404,"t":"a"},{"c":"let","x":292.72,"y":-84,"t":"c"}
],
"b":[
{"c":"out","s":"C1","x":406.0,"y":312},{"c":"out","s":"C1","x":405.85,"y":315},{"c":"out","s":"C1","x":405.7,"y":311},{"c":"out","s":"C1","x":405.55,"y":309},{"c":"out","s":"C1","x":405.4,"y":313},{"c":"out","s":"C1","x":405.25,"y":310},{"c":"out","s":"C1","x":405.1,"y":308},{"c":"out","s":"C1","x":404.95,"y":312},{"c":"out","s":"C1","x":404.8,"y":310},{"c":"out","s":"C1","x":404.65,"y":313},{"c":"out","s":"C1","x":404.5,"y":308},{"c":"out","s":"C1","x":404.35,"y":311},{"c":"out","s":"C1","x":404.2,"y":309},{"c":"out","s":"C1","x":404.05,"y":312},{"c":"out","s":"C1","x":403.9,"y":307},{"c":"out","s":"C1","x":403.8,"y":310},
{"c":"raw","s":"C","x":403.8,"y":310},{"c":"raw","s":"C","x":403.6,"y":311.5},{"c":"raw","s":"C","x":403.4,"y":313},{"c":"raw","s":"C","x":403.2,"y":314.5},{"c":"raw","s":"C","x":403.0,"y":316},{"c":"raw","s":"C","x":402.8,"y":316.5},{"c":"raw","s":"C","x":402.6,"y":315},{"c":"raw","s":"C","x":402.4,"y":314},{"c":"raw","s":"C","x":402.2,"y":315.5},{"c":"raw","s":"C","x":402.0,"y":318},{"c":"raw","s":"C","x":401.8,"y":322},{"c":"raw","s":"C","x":401.6,"y":331},{"c":"raw","s":"C","x":401.4,"y":342},{"c":"raw","s":"C","x":401.2,"y":352},{"c":"raw","s":"C","x":401.0,"y":357},{"c":"raw","s":"C","x":400.9,"y":360},{"c":"raw","s":"C","x":400.8,"y":361},{"c":"raw","s":"C","x":400.7,"y":360.5},{"c":"raw","s":"C","x":400.6,"y":356},{"c":"raw","s":"C","x":400.4,"y":346},{"c":"raw","s":"C","x":400.2,"y":335},{"c":"raw","s":"C","x":400.0,"y":321},{"c":"raw","s":"C","x":399.8,"y":312},{"c":"raw","s":"C","x":399.6,"y":308},{"c":"raw","s":"C","x":399.4,"y":302},{"c":"raw","s":"C","x":399.2,"y":298},{"c":"raw","s":"C","x":399.0,"y":297},{"c":"raw","s":"C","x":398.9,"y":299},{"c":"raw","s":"C","x":398.8,"y":296},{"c":"raw","s":"C","x":398.6,"y":295},{"c":"raw","s":"C","x":398.4,"y":296.5},{"c":"raw","s":"C","x":398.2,"y":295},
{"c":"out","s":"C2","x":398.2,"y":295},{"c":"out","s":"C2","x":398.05,"y":293},{"c":"out","s":"C2","x":397.9,"y":295},{"c":"out","s":"C2","x":397.75,"y":292},{"c":"out","s":"C2","x":397.6,"y":294},{"c":"out","s":"C2","x":397.45,"y":295},{"c":"out","s":"C2","x":397.3,"y":293},{"c":"out","s":"C2","x":397.15,"y":296},{"c":"out","s":"C2","x":397.0,"y":293},{"c":"out","s":"C2","x":396.85,"y":295},{"c":"out","s":"C2","x":396.7,"y":297},{"c":"out","s":"C2","x":396.55,"y":294},{"c":"out","s":"C2","x":396.4,"y":292},{"c":"out","s":"C2","x":396.25,"y":294},{"c":"out","s":"C2","x":396.1,"y":292},{"c":"out","s":"C2","x":396.0,"y":293},
{"c":"bg","s":"C","x":403.8,"y":309.5},{"c":"bg","s":"C","x":403.4,"y":309.4},{"c":"bg","s":"C","x":403.0,"y":309.2},{"c":"bg","s":"C","x":402.6,"y":308.7},{"c":"bg","s":"C","x":402.2,"y":307.8},{"c":"bg","s":"C","x":401.8,"y":306.6},{"c":"bg","s":"C","x":401.4,"y":305.3},{"c":"bg","s":"C","x":401.0,"y":303.6},{"c":"bg","s":"C","x":400.6,"y":301.6},{"c":"bg","s":"C","x":400.2,"y":299.6},{"c":"bg","s":"C","x":399.8,"y":298.0},{"c":"bg","s":"C","x":399.4,"y":297.0},{"c":"bg","s":"C","x":399.0,"y":296.4},{"c":"bg","s":"C","x":398.6,"y":296.1},{"c":"bg","s":"C","x":398.2,"y":296.0},
{"c":"b","s":"C","x":403.8,"y":310.4},{"c":"b","s":"C","x":403.6,"y":311.4},{"c":"b","s":"C","x":403.4,"y":312.8},{"c":"b","s":"C","x":403.2,"y":314.4},{"c":"b","s":"C","x":403.0,"y":315.7},{"c":"b","s":"C","x":402.8,"y":316.0},{"c":"b","s":"C","x":402.6,"y":315.2},{"c":"b","s":"C","x":402.4,"y":313.4},{"c":"b","s":"C","x":402.2,"y":311.2},{"c":"b","s":"C","x":402.0,"y":309.1},{"c":"b","s":"C","x":401.8,"y":307.5},{"c":"b","s":"C","x":401.6,"y":306.4},{"c":"b","s":"C","x":401.4,"y":305.4},
{"c":"r","s":"C","x":402.8,"y":309.2},{"c":"r","s":"C","x":402.6,"y":309.3},{"c":"r","s":"C","x":402.4,"y":310.0},{"c":"r","s":"C","x":402.2,"y":311.6},{"c":"r","s":"C","x":402.0,"y":314.9},{"c":"r","s":"C","x":401.8,"y":320.8},{"c":"r","s":"C","x":401.6,"y":329.4},{"c":"r","s":"C","x":401.4,"y":339.9},{"c":"r","s":"C","x":401.2,"y":350.2},{"c":"r","s":"C","x":401.0,"y":357.5},{"c":"r","s":"C","x":400.8,"y":359.6},{"c":"r","s":"C","x":400.6,"y":355.5},{"c":"r","s":"C","x":400.4,"y":346.3},{"c":"r","s":"C","x":400.2,"y":334.2},{"c":"r","s":"C","x":400.0,"y":322.1},{"c":"r","s":"C","x":399.8,"y":312.2},{"c":"r","s":"C","x":399.6,"y":305.1},{"c":"r","s":"C","x":399.4,"y":300.8},{"c":"r","s":"C","x":399.2,"y":298.3},{"c":"r","s":"C","x":399.0,"y":297.0},{"c":"r","s":"C","x":398.8,"y":296.4},
{"c":"env","s":"C","x":403.8,"y":310.4},{"c":"env","s":"C","x":403.6,"y":311.4},{"c":"env","s":"C","x":403.4,"y":312.8},{"c":"env","s":"C","x":403.2,"y":314.4},{"c":"env","s":"C","x":403.0,"y":315.7},{"c":"env","s":"C","x":402.8,"y":316.2},{"c":"env","s":"C","x":402.6,"y":315.8},{"c":"env","s":"C","x":402.4,"y":315.1},{"c":"env","s":"C","x":402.2,"y":315.0},{"c":"env","s":"C","x":402.0,"y":316.8},{"c":"env","s":"C","x":401.8,"y":321.7},{"c":"env","s":"C","x":401.6,"y":329.8},{"c":"env","s":"C","x":401.4,"y":340.0},{"c":"env","s":"C","x":401.2,"y":350.2},{"c":"env","s":"C","x":401.0,"y":357.5},{"c":"env","s":"C","x":400.8,"y":359.6},{"c":"env","s":"C","x":400.6,"y":355.5},{"c":"env","s":"C","x":400.4,"y":346.3},{"c":"env","s":"C","x":400.2,"y":334.2},{"c":"env","s":"C","x":400.0,"y":322.1},{"c":"env","s":"C","x":399.8,"y":312.2},{"c":"env","s":"C","x":399.6,"y":305.1},{"c":"env","s":"C","x":399.4,"y":300.8},{"c":"env","s":"C","x":399.2,"y":298.3},{"c":"env","s":"C","x":399.0,"y":297.0},{"c":"env","s":"C","x":398.8,"y":296.4},{"c":"env","s":"C","x":398.6,"y":296.1},{"c":"env","s":"C","x":398.2,"y":296.0},
{"c":"out","s":"B1","x":406.0,"y":219},{"c":"out","s":"B1","x":405.85,"y":221},{"c":"out","s":"B1","x":405.7,"y":218},{"c":"out","s":"B1","x":405.55,"y":220},{"c":"out","s":"B1","x":405.4,"y":219.5},{"c":"out","s":"B1","x":405.25,"y":222},{"c":"out","s":"B1","x":405.1,"y":219},{"c":"out","s":"B1","x":404.95,"y":220},{"c":"out","s":"B1","x":404.85,"y":218},
{"c":"raw","s":"B","x":404.85,"y":218},{"c":"raw","s":"B","x":404.7,"y":221},{"c":"raw","s":"B","x":404.55,"y":218},{"c":"raw","s":"B","x":404.4,"y":220},{"c":"raw","s":"B","x":404.2,"y":221},{"c":"raw","s":"B","x":404.06,"y":222},{"c":"raw","s":"B","x":403.8,"y":223},{"c":"raw","s":"B","x":403.6,"y":225},{"c":"raw","s":"B","x":403.4,"y":227},{"c":"raw","s":"B","x":403.2,"y":229},{"c":"raw","s":"B","x":403.0,"y":234},{"c":"raw","s":"B","x":402.8,"y":238},{"c":"raw","s":"B","x":402.6,"y":239.5},{"c":"raw","s":"B","x":402.5,"y":237},{"c":"raw","s":"B","x":402.3,"y":238},{"c":"raw","s":"B","x":402.1,"y":233},{"c":"raw","s":"B","x":401.9,"y":231},{"c":"raw","s":"B","x":401.7,"y":236},{"c":"raw","s":"B","x":401.5,"y":244},{"c":"raw","s":"B","x":401.3,"y":254},{"c":"raw","s":"B","x":401.1,"y":264},{"c":"raw","s":"B","x":400.95,"y":269},{"c":"raw","s":"B","x":400.8,"y":271},{"c":"raw","s":"B","x":400.65,"y":269},{"c":"raw","s":"B","x":400.5,"y":262},{"c":"raw","s":"B","x":400.3,"y":249},{"c":"raw","s":"B","x":400.06,"y":231},{"c":"raw","s":"B","x":399.85,"y":220},{"c":"raw","s":"B","x":399.7,"y":214},{"c":"raw","s":"B","x":399.5,"y":209},{"c":"raw","s":"B","x":399.4,"y":207},{"c":"raw","s":"B","x":399.2,"y":205},{"c":"raw","s":"B","x":399.1,"y":204},{"c":"raw","s":"B","x":398.95,"y":207},{"c":"raw","s":"B","x":398.8,"y":202},{"c":"raw","s":"B","x":398.6,"y":203},
{"c":"out","s":"B2","x":398.6,"y":203},{"c":"out","s":"B2","x":398.45,"y":201},{"c":"out","s":"B2","x":398.3,"y":203},{"c":"out","s":"B2","x":398.15,"y":200},{"c":"out","s":"B2","x":398.0,"y":202},{"c":"out","s":"B2","x":397.85,"y":199},{"c":"out","s":"B2","x":397.7,"y":201},{"c":"out","s":"B2","x":397.55,"y":202},{"c":"out","s":"B2","x":397.4,"y":199},{"c":"out","s":"B2","x":397.25,"y":197},{"c":"out","s":"B2","x":397.1,"y":199},{"c":"out","s":"B2","x":396.95,"y":201},{"c":"out","s":"B2","x":396.8,"y":200},{"c":"out","s":"B2","x":396.65,"y":202},{"c":"out","s":"B2","x":396.5,"y":199},{"c":"out","s":"B2","x":396.35,"y":198},{"c":"out","s":"B2","x":396.2,"y":200},{"c":"out","s":"B2","x":396.0,"y":199},
{"c":"bg","s":"B","x":404.4,"y":219.0},{"c":"bg","s":"B","x":404.0,"y":218.8},{"c":"bg","s":"B","x":403.6,"y":218.5},{"c":"bg","s":"B","x":403.2,"y":218.2},{"c":"bg","s":"B","x":402.8,"y":217.8},{"c":"bg","s":"B","x":402.4,"y":217.2},{"c":"bg","s":"B","x":402.0,"y":216.2},{"c":"bg","s":"B","x":401.6,"y":214.8},{"c":"bg","s":"B","x":401.2,"y":213.0},{"c":"bg","s":"B","x":400.8,"y":211.0},{"c":"bg","s":"B","x":400.4,"y":208.8},{"c":"bg","s":"B","x":400.0,"y":207.0},{"c":"bg","s":"B","x":399.6,"y":205.6},{"c":"bg","s":"B","x":399.2,"y":204.8},{"c":"bg","s":"B","x":398.8,"y":204.4},{"c":"bg","s":"B","x":398.6,"y":204.3},
{"c":"b","s":"B","x":404.4,"y":219.2},{"c":"b","s":"B","x":404.2,"y":219.5},{"c":"b","s":"B","x":404.0,"y":220.3},{"c":"b","s":"B","x":403.8,"y":221.7},{"c":"b","s":"B","x":403.6,"y":224.0},{"c":"b","s":"B","x":403.4,"y":227.4},{"c":"b","s":"B","x":403.2,"y":231.6},{"c":"b","s":"B","x":403.0,"y":235.6},{"c":"b","s":"B","x":402.8,"y":238.6},{"c":"b","s":"B","x":402.6,"y":239.5},{"c":"b","s":"B","x":402.4,"y":238.0},{"c":"b","s":"B","x":402.2,"y":234.4},{"c":"b","s":"B","x":402.0,"y":229.6},{"c":"b","s":"B","x":401.8,"y":224.6},{"c":"b","s":"B","x":401.6,"y":220.3},{"c":"b","s":"B","x":401.4,"y":217.0},{"c":"b","s":"B","x":401.2,"y":214.5},{"c":"b","s":"B","x":401.0,"y":212.6},{"c":"b","s":"B","x":400.8,"y":211.2},{"c":"b","s":"B","x":400.6,"y":210.0},
{"c":"r","s":"B","x":402.8,"y":217.9},{"c":"r","s":"B","x":402.6,"y":217.9},{"c":"r","s":"B","x":402.4,"y":218.3},{"c":"r","s":"B","x":402.2,"y":219.6},{"c":"r","s":"B","x":402.0,"y":222.5},{"c":"r","s":"B","x":401.8,"y":228.1},{"c":"r","s":"B","x":401.6,"y":236.5},{"c":"r","s":"B","x":401.4,"y":247.4},{"c":"r","s":"B","x":401.2,"y":258.4},{"c":"r","s":"B","x":401.0,"y":266.5},{"c":"r","s":"B","x":400.8,"y":269.0},{"c":"r","s":"B","x":400.6,"y":264.4},{"c":"r","s":"B","x":400.4,"y":254.2},{"c":"r","s":"B","x":400.2,"y":241.2},{"c":"r","s":"B","x":400.0,"y":228.7},{"c":"r","s":"B","x":399.8,"y":218.7},{"c":"r","s":"B","x":399.6,"y":211.9},{"c":"r","s":"B","x":399.4,"y":207.9},{"c":"r","s":"B","x":399.2,"y":205.9},{"c":"r","s":"B","x":399.0,"y":205.0},{"c":"r","s":"B","x":398.8,"y":204.5},
{"c":"env","s":"B","x":404.4,"y":219.2},{"c":"env","s":"B","x":404.2,"y":219.5},{"c":"env","s":"B","x":404.0,"y":220.3},{"c":"env","s":"B","x":403.8,"y":221.7},{"c":"env","s":"B","x":403.6,"y":224.0},{"c":"env","s":"B","x":403.4,"y":227.4},{"c":"env","s":"B","x":403.2,"y":231.6},{"c":"env","s":"B","x":403.0,"y":235.6},{"c":"env","s":"B","x":402.8,"y":238.7},{"c":"env","s":"B","x":402.6,"y":239.9},{"c":"env","s":"B","x":402.4,"y":239.1},{"c":"env","s":"B","x":402.2,"y":237.2},{"c":"env","s":"B","x":402.0,"y":235.9},{"c":"env","s":"B","x":401.8,"y":237.1},{"c":"env","s":"B","x":401.6,"y":242.0},{"c":"env","s":"B","x":401.4,"y":250.4},{"c":"env","s":"B","x":401.2,"y":259.9},{"c":"env","s":"B","x":401.0,"y":267.1},{"c":"env","s":"B","x":400.8,"y":269.2},{"c":"env","s":"B","x":400.6,"y":264.5},{"c":"env","s":"B","x":400.4,"y":254.2},{"c":"env","s":"B","x":400.2,"y":241.2},{"c":"env","s":"B","x":400.0,"y":228.7},{"c":"env","s":"B","x":399.8,"y":218.7},{"c":"env","s":"B","x":399.6,"y":211.9},{"c":"env","s":"B","x":399.4,"y":207.9},{"c":"env","s":"B","x":399.2,"y":205.9},{"c":"env","s":"B","x":399.0,"y":205.0},{"c":"env","s":"B","x":398.8,"y":204.5},{"c":"env","s":"B","x":398.6,"y":204.3},
{"c":"out","s":"O1","x":406.0,"y":127},{"c":"out","s":"O1","x":405.8,"y":126},{"c":"out","s":"O1","x":405.6,"y":121},{"c":"out","s":"O1","x":405.45,"y":128},{"c":"out","s":"O1","x":405.3,"y":133},{"c":"out","s":"O1","x":405.15,"y":128},{"c":"out","s":"O1","x":405.0,"y":130},{"c":"out","s":"O1","x":404.9,"y":127},{"c":"out","s":"O1","x":404.8,"y":127},
{"c":"raw","s":"O","x":404.8,"y":127},{"c":"raw","s":"O","x":404.6,"y":128},{"c":"raw","s":"O","x":404.37,"y":134},{"c":"raw","s":"O","x":404.18,"y":124},{"c":"raw","s":"O","x":404.06,"y":134},{"c":"raw","s":"O","x":403.95,"y":126},{"c":"raw","s":"O","x":403.8,"y":134},{"c":"raw","s":"O","x":403.5,"y":137},{"c":"raw","s":"O","x":403.2,"y":147},{"c":"raw","s":"O","x":402.94,"y":161},{"c":"raw","s":"O","x":402.6,"y":171},{"c":"raw","s":"O","x":402.47,"y":167},{"c":"raw","s":"O","x":402.3,"y":171},{"c":"raw","s":"O","x":402.15,"y":161},{"c":"raw","s":"O","x":401.9,"y":151},{"c":"raw","s":"O","x":401.75,"y":152},{"c":"raw","s":"O","x":401.5,"y":164},{"c":"raw","s":"O","x":401.1,"y":172},{"c":"raw","s":"O","x":400.85,"y":176},{"c":"raw","s":"O","x":400.7,"y":174},{"c":"raw","s":"O","x":400.4,"y":157},{"c":"raw","s":"O","x":400.1,"y":145},{"c":"raw","s":"O","x":399.9,"y":130},{"c":"raw","s":"O","x":399.75,"y":124},{"c":"raw","s":"O","x":399.7,"y":125},{"c":"raw","s":"O","x":399.5,"y":116},{"c":"raw","s":"O","x":399.3,"y":113},{"c":"raw","s":"O","x":399.2,"y":112},
{"c":"out","s":"O2","x":399.2,"y":112},{"c":"out","s":"O2","x":399.0,"y":109},{"c":"out","s":"O2","x":398.8,"y":113},{"c":"out","s":"O2","x":398.6,"y":116},{"c":"out","s":"O2","x":398.4,"y":112},{"c":"out","s":"O2","x":398.2,"y":114},{"c":"out","s":"O2","x":397.95,"y":117},{"c":"out","s":"O2","x":397.8,"y":112},{"c":"out","s":"O2","x":397.65,"y":109},{"c":"out","s":"O2","x":397.45,"y":113},{"c":"out","s":"O2","x":397.27,"y":116},{"c":"out","s":"O2","x":397.1,"y":112},{"c":"out","s":"O2","x":396.9,"y":109},{"c":"out","s":"O2","x":396.75,"y":110},{"c":"out","s":"O2","x":396.63,"y":104},{"c":"out","s":"O2","x":396.45,"y":111},{"c":"out","s":"O2","x":396.25,"y":108},{"c":"out","s":"O2","x":396.0,"y":109},
{"c":"bg","s":"O","x":404.8,"y":127.0},{"c":"bg","s":"O","x":404.4,"y":126.8},{"c":"bg","s":"O","x":404.0,"y":126.4},{"c":"bg","s":"O","x":403.6,"y":125.9},{"c":"bg","s":"O","x":403.2,"y":125.2},{"c":"bg","s":"O","x":402.8,"y":124.3},{"c":"bg","s":"O","x":402.4,"y":123.1},{"c":"bg","s":"O","x":402.0,"y":121.6},{"c":"bg","s":"O","x":401.6,"y":120.0},{"c":"bg","s":"O","x":401.2,"y":118.0},{"c":"bg","s":"O","x":400.8,"y":116.2},{"c":"bg","s":"O","x":400.4,"y":114.7},{"c":"bg","s":"O","x":400.0,"y":113.6},{"c":"bg","s":"O","x":399.6,"y":112.8},{"c":"bg","s":"O","x":399.2,"y":112.3},{"c":"bg","s":"O","x":398.6,"y":112.0},
{"c":"b","s":"O","x":404.8,"y":127.1},{"c":"b","s":"O","x":404.6,"y":127.1},{"c":"b","s":"O","x":404.4,"y":127.3},{"c":"b","s":"O","x":404.2,"y":128.0},{"c":"b","s":"O","x":404.0,"y":129.5},{"c":"b","s":"O","x":403.8,"y":132.5},{"c":"b","s":"O","x":403.6,"y":137.6},{"c":"b","s":"O","x":403.4,"y":144.9},{"c":"b","s":"O","x":403.2,"y":153.7},{"c":"b","s":"O","x":403.0,"y":162.4},{"c":"b","s":"O","x":402.8,"y":168.8},{"c":"b","s":"O","x":402.6,"y":170.8},{"c":"b","s":"O","x":402.4,"y":167.6},{"c":"b","s":"O","x":402.2,"y":160.0},{"c":"b","s":"O","x":402.0,"y":150.1},{"c":"b","s":"O","x":401.8,"y":140.1},{"c":"b","s":"O","x":401.6,"y":131.7},{"c":"b","s":"O","x":401.4,"y":125.3},{"c":"b","s":"O","x":401.2,"y":121.1},{"c":"b","s":"O","x":401.0,"y":118.4},{"c":"b","s":"O","x":400.8,"y":116.7},{"c":"b","s":"O","x":400.6,"y":115.6},
{"c":"r","s":"O","x":403.0,"y":125.0},{"c":"r","s":"O","x":402.8,"y":124.8},{"c":"r","s":"O","x":402.6,"y":125.0},{"c":"r","s":"O","x":402.4,"y":125.8},{"c":"r","s":"O","x":402.2,"y":127.9},{"c":"r","s":"O","x":402.0,"y":131.8},{"c":"r","s":"O","x":401.8,"y":137.9},{"c":"r","s":"O","x":401.6,"y":146.3},{"c":"r","s":"O","x":401.4,"y":155.6},{"c":"r","s":"O","x":401.2,"y":164.3},{"c":"r","s":"O","x":401.0,"y":170.4},{"c":"r","s":"O","x":400.8,"y":172.2},{"c":"r","s":"O","x":400.6,"y":168.8},{"c":"r","s":"O","x":400.4,"y":161.0},{"c":"r","s":"O","x":400.2,"y":150.7},{"c":"r","s":"O","x":400.0,"y":139.9},{"c":"r","s":"O","x":399.8,"y":130.3},{"c":"r","s":"O","x":399.6,"y":123.0},{"c":"r","s":"O","x":399.4,"y":118.0},{"c":"r","s":"O","x":399.2,"y":115.0},{"c":"r","s":"O","x":399.0,"y":113.4},{"c":"r","s":"O","x":398.8,"y":112.6},{"c":"r","s":"O","x":398.6,"y":112.2},
{"c":"env","s":"O","x":404.8,"y":127.1},{"c":"env","s":"O","x":404.6,"y":127.1},{"c":"env","s":"O","x":404.4,"y":127.3},{"c":"env","s":"O","x":404.2,"y":128.0},{"c":"env","s":"O","x":404.0,"y":129.5},{"c":"env","s":"O","x":403.8,"y":132.5},{"c":"env","s":"O","x":403.6,"y":137.6},{"c":"env","s":"O","x":403.4,"y":144.9},{"c":"env","s":"O","x":403.2,"y":153.7},{"c":"env","s":"O","x":403.0,"y":162.6},{"c":"env","s":"O","x":402.8,"y":169.3},{"c":"env","s":"O","x":402.6,"y":172.0},{"c":"env","s":"O","x":402.4,"y":170.3},{"c":"env","s":"O","x":402.2,"y":165.5},{"c":"env","s":"O","x":402.0,"y":160.3},{"c":"env","s":"O","x":401.8,"y":157.2},{"c":"env","s":"O","x":401.6,"y":158.0},{"c":"env","s":"O","x":401.4,"y":161.9},{"c":"env","s":"O","x":401.2,"y":167.4},{"c":"env","s":"O","x":401.0,"y":171.8},{"c":"env","s":"O","x":400.8,"y":172.7},{"c":"env","s":"O","x":400.6,"y":169.0},{"c":"env","s":"O","x":400.4,"y":161.0},{"c":"env","s":"O","x":400.2,"y":150.7},{"c":"env","s":"O","x":400.0,"y":139.9},{"c":"env","s":"O","x":399.8,"y":130.3},{"c":"env","s":"O","x":399.6,"y":123.0},{"c":"env","s":"O","x":399.4,"y":118.0},{"c":"env","s":"O","x":399.2,"y":115.0},{"c":"env","s":"O","x":399.0,"y":113.4},{"c":"env","s":"O","x":398.8,"y":112.6},{"c":"env","s":"O","x":398.6,"y":112.2},
{"c":"out","s":"D1","x":406.0,"y":37},{"c":"out","s":"D1","x":405.85,"y":40},{"c":"out","s":"D1","x":405.7,"y":37},{"c":"out","s":"D1","x":405.55,"y":34},{"c":"out","s":"D1","x":405.4,"y":38},{"c":"out","s":"D1","x":405.25,"y":36},{"c":"out","s":"D1","x":405.1,"y":33},{"c":"out","s":"D1","x":404.95,"y":37},{"c":"out","s":"D1","x":404.8,"y":35},{"c":"out","s":"D1","x":404.65,"y":38},{"c":"out","s":"D1","x":404.5,"y":36},{"c":"out","s":"D1","x":404.4,"y":35},
{"c":"raw","s":"D","x":404.4,"y":35},{"c":"raw","s":"D","x":404.3,"y":31},{"c":"raw","s":"D","x":404.06,"y":37},{"c":"raw","s":"D","x":403.9,"y":42},{"c":"raw","s":"D","x":403.78,"y":47},{"c":"raw","s":"D","x":403.55,"y":42},{"c":"raw","s":"D","x":403.4,"y":52},{"c":"raw","s":"D","x":403.27,"y":62},{"c":"raw","s":"D","x":403.1,"y":73},{"c":"raw","s":"D","x":402.9,"y":84},{"c":"raw","s":"D","x":402.7,"y":86},{"c":"raw","s":"D","x":402.4,"y":86},{"c":"raw","s":"D","x":402.2,"y":72},{"c":"raw","s":"D","x":402.05,"y":66},{"c":"raw","s":"D","x":401.9,"y":57},{"c":"raw","s":"D","x":401.75,"y":61},{"c":"raw","s":"D","x":401.5,"y":59},{"c":"raw","s":"D","x":401.25,"y":58},{"c":"raw","s":"D","x":401.0,"y":62},{"c":"raw","s":"D","x":400.93,"y":66},{"c":"raw","s":"D","x":400.75,"y":59},{"c":"raw","s":"D","x":400.4,"y":49},{"c":"raw","s":"D","x":400.2,"y":39},{"c":"raw","s":"D","x":400.0,"y":27},{"c":"raw","s":"D","x":399.85,"y":20},{"c":"raw","s":"D","x":399.75,"y":17},{"c":"raw","s":"D","x":399.6,"y":16},{"c":"raw","s":"D","x":399.45,"y":21},
{"c":"out","s":"D2","x":399.45,"y":21},{"c":"out","s":"D2","x":399.3,"y":18},{"c":"out","s":"D2","x":399.15,"y":22},{"c":"out","s":"D2","x":399.0,"y":20},{"c":"out","s":"D2","x":398.85,"y":23},{"c":"out","s":"D2","x":398.7,"y":19},{"c":"out","s":"D2","x":398.55,"y":22},{"c":"out","s":"D2","x":398.4,"y":20},{"c":"out","s":"D2","x":398.25,"y":23},{"c":"out","s":"D2","x":398.1,"y":21},{"c":"out","s":"D2","x":397.93,"y":29},{"c":"out","s":"D2","x":397.8,"y":22},{"c":"out","s":"D2","x":397.65,"y":20},{"c":"out","s":"D2","x":397.5,"y":23},{"c":"out","s":"D2","x":397.35,"y":19},{"c":"out","s":"D2","x":397.2,"y":21},{"c":"out","s":"D2","x":397.05,"y":17},{"c":"out","s":"D2","x":396.9,"y":22},{"c":"out","s":"D2","x":396.75,"y":18},{"c":"out","s":"D2","x":396.6,"y":21},{"c":"out","s":"D2","x":396.45,"y":17},{"c":"out","s":"D2","x":396.3,"y":22},{"c":"out","s":"D2","x":396.15,"y":19},{"c":"out","s":"D2","x":396.0,"y":20},
{"c":"bg","s":"D","x":404.2,"y":36.0},{"c":"bg","s":"D","x":403.8,"y":35.1},{"c":"bg","s":"D","x":403.4,"y":33.8},{"c":"bg","s":"D","x":403.0,"y":32.3},{"c":"bg","s":"D","x":402.6,"y":30.7},{"c":"bg","s":"D","x":402.2,"y":29.1},{"c":"bg","s":"D","x":401.8,"y":27.5},{"c":"bg","s":"D","x":401.4,"y":25.9},{"c":"bg","s":"D","x":401.0,"y":24.3},{"c":"bg","s":"D","x":400.6,"y":22.9},{"c":"bg","s":"D","x":400.2,"y":21.8},{"c":"bg","s":"D","x":399.8,"y":21.1},{"c":"bg","s":"D","x":399.4,"y":20.7},{"c":"bg","s":"D","x":399.0,"y":20.5},
{"c":"b","s":"D","x":404.2,"y":36.8},{"c":"b","s":"D","x":404.0,"y":37.7},{"c":"b","s":"D","x":403.8,"y":40.2},{"c":"b","s":"D","x":403.6,"y":45.1},{"c":"b","s":"D","x":403.4,"y":52.9},{"c":"b","s":"D","x":403.2,"y":63.5},{"c":"b","s":"D","x":403.0,"y":74.5},{"c":"b","s":"D","x":402.8,"y":83.0},{"c":"b","s":"D","x":402.6,"y":85.7},{"c":"b","s":"D","x":402.4,"y":81.4},{"c":"b","s":"D","x":402.2,"y":71.3},{"c":"b","s":"D","x":402.0,"y":58.7},{"c":"b","s":"D","x":401.8,"y":46.6},{"c":"b","s":"D","x":401.6,"y":37.3},{"c":"b","s":"D","x":401.4,"y":31.0},{"c":"b","s":"D","x":401.2,"y":27.2},{"c":"b","s":"D","x":401.0,"y":25.1},{"c":"b","s":"D","x":400.8,"y":23.9},
{"c":"r","s":"D","x":403.0,"y":32.5},{"c":"r","s":"D","x":402.8,"y":32.0},{"c":"r","s":"D","x":402.6,"y":31.9},{"c":"r","s":"D","x":402.4,"y":32.6},{"c":"r","s":"D","x":402.2,"y":34.3},{"c":"r","s":"D","x":402.0,"y":37.5},{"c":"r","s":"D","x":401.8,"y":42.3},{"c":"r","s":"D","x":401.6,"y":48.0},{"c":"r","s":"D","x":401.4,"y":53.5},{"c":"r","s":"D","x":401.2,"y":57.4},{"c":"r","s":"D","x":401.0,"y":58.3},{"c":"r","s":"D","x":400.8,"y":55.9},{"c":"r","s":"D","x":400.6,"y":50.5},{"c":"r","s":"D","x":400.4,"y":43.6},{"c":"r","s":"D","x":400.2,"y":36.6},{"c":"r","s":"D","x":400.0,"y":30.6},{"c":"r","s":"D","x":399.8,"y":26.3},{"c":"r","s":"D","x":399.6,"y":23.6},{"c":"r","s":"D","x":399.4,"y":21.9},{"c":"r","s":"D","x":399.2,"y":21.1},{"c":"r","s":"D","x":399.0,"y":20.7},
{"c":"env","s":"D","x":404.2,"y":36.8},{"c":"env","s":"D","x":404.0,"y":37.7},{"c":"env","s":"D","x":403.8,"y":40.2},{"c":"env","s":"D","x":403.6,"y":45.1},{"c":"env","s":"D","x":403.4,"y":52.9},{"c":"env","s":"D","x":403.2,"y":63.5},{"c":"env","s":"D","x":403.0,"y":74.7},{"c":"env","s":"D","x":402.8,"y":83.5},{"c":"env","s":"D","x":402.6,"y":86.9},{"c":"env","s":"D","x":402.4,"y":84.1},{"c":"env","s":"D","x":402.2,"y":76.5},{"c":"env","s":"D","x":402.0,"y":67.9},{"c":"env","s":"D","x":401.8,"y":61.4},{"c":"env","s":"D","x":401.6,"y":58.6},{"c":"env","s":"D","x":401.4,"y":58.6},{"c":"env","s":"D","x":401.2,"y":59.5},{"c":"env","s":"D","x":401.0,"y":59.1},{"c":"env","s":"D","x":400.8,"y":56.2},{"c":"env","s":"D","x":400.6,"y":50.5},{"c":"env","s":"D","x":400.4,"y":43.6},{"c":"env","s":"D","x":400.2,"y":36.6},{"c":"env","s":"D","x":400.0,"y":30.6},{"c":"env","s":"D","x":399.8,"y":26.3},{"c":"env","s":"D","x":399.6,"y":23.6},{"c":"env","s":"D","x":399.4,"y":21.9},{"c":"env","s":"D","x":399.2,"y":21.1},
{"c":"lab","x":396.21,"y":316,"t":"Control"},{"c":"lab","x":396.21,"y":224,"t":"n-BABr"},{"c":"lab","x":396.21,"y":129,"t":"n-OABr"},{"c":"lab","x":396.21,"y":51,"t":"n-DABr"},
{"c":"ttl","x":403.2,"y":398,"t":"Fitting of N1s"},
{"c":"let","x":406.65,"y":404,"t":"b"},{"c":"let","x":406.65,"y":-83,"t":"d"}
]
},
"hconcat":[
{
"width":520,"height":412,
"data":{"name":"a"},
"resolve":{"axis":{"x":"independent","y":"independent"}},
"layer":[
{"transform":[{"filter":"datum.c=='bg'"}],"mark":{"type":"line","color":"#8c8c8c","strokeWidth":1.2},
"encoding":{"x":{"field":"x","type":"quantitative","scale":{"domain":[292,280],"nice":false,"zero":false},"axis":{"orient":"bottom","values":[292,290,288,286,284,282,280],"format":"d","labelFlush":false,"tickSize":8,"tickWidth":1.5,"tickColor":"black","domain":false,"grid":false,"labelFontSize":22,"labelColor":"black","labelPadding":4,"title":"Binding Energy (eV)","titleFontSize":22,"titleFontWeight":"normal","titleColor":"black","titlePadding":12}},
"y":{"field":"y","type":"quantitative","scale":{"domain":[0,412],"nice":false,"zero":false},"axis":{"orient":"left","title":"Counts (a.u.)","labels":false,"ticks":false,"domain":true,"domainColor":"black","domainWidth":1.5,"grid":false,"titleFontSize":22,"titleFontWeight":"normal","titleColor":"black","titlePadding":18,"titleY":238}},
"detail":{"field":"s"}}},
{"transform":[{"filter":"datum.c=='out'"}],"mark":{"type":"line","color":"#a3a3a3","strokeWidth":1.3},
"encoding":{"x":{"field":"x","type":"quantitative","scale":{"domain":[292,280],"nice":false,"zero":false},"axis":{"orient":"bottom","values":[291,289,287,285,283,281],"tickSize":4,"tickWidth":1.5,"tickColor":"black","labels":false,"domain":false,"grid":false,"title":null}},
"y":{"field":"y","type":"quantitative","scale":{"domain":[0,412],"nice":false,"zero":false},"axis":null},
"detail":{"field":"s"}}},
{"transform":[{"filter":"datum.c=='out'"}],"mark":{"type":"line","color":"#9b2d2d","strokeWidth":1.1,"strokeDash":[4,3]},
"encoding":{"x":{"field":"x","type":"quantitative","scale":{"domain":[292,280],"nice":false,"zero":false},"axis":{"orient":"bottom","values":[290,288,286,284,282],"tickSize":7,"offset":-7,"tickWidth":1.5,"tickColor":"black","labels":false,"domain":false,"grid":false,"title":null}},
"y":{"field":"y","type":"quantitative","scale":{"domain":[0,412],"nice":false,"zero":false},"axis":null},
"detail":{"field":"s"}}},
{"transform":[{"filter":"indexof(['g','b','r','o'],datum.c)>=0"}],"mark":{"type":"line","strokeWidth":1.2},
"encoding":{"x":{"field":"x","type":"quantitative","scale":{"domain":[292,280],"nice":false,"zero":false},"axis":null},
"y":{"field":"y","type":"quantitative","scale":{"domain":[0,412],"nice":false,"zero":false},"axis":null},
"color":{"field":"c","type":"nominal","scale":{"domain":["g","b","r","o"],"range":["#1c9a1c","#1414e6","#ec1515","#ff9a1a"]},"legend":null},
"detail":{"field":"s"}}},
{"transform":[{"filter":"datum.c=='raw'"}],"mark":{"type":"line","color":"black","strokeWidth":1.2},
"encoding":{"x":{"field":"x","type":"quantitative","scale":{"domain":[292,280],"nice":false,"zero":false},"axis":null},
"y":{"field":"y","type":"quantitative","scale":{"domain":[0,412],"nice":false,"zero":false},"axis":null},
"detail":{"field":"s"}}},
{"transform":[{"filter":"datum.c=='env'"}],"mark":{"type":"line","color":"#b01c1c","strokeWidth":1.2,"strokeDash":[5,3]},
"encoding":{"x":{"field":"x","type":"quantitative","scale":{"domain":[292,280],"nice":false,"zero":false},"axis":null},
"y":{"field":"y","type":"quantitative","scale":{"domain":[0,412],"nice":false,"zero":false},"axis":null},
"detail":{"field":"s"}}},
{"transform":[{"filter":"datum.c=='lab'"}],"mark":{"type":"text","align":"right","baseline":"middle","fontSize":22},
"encoding":{"x":{"field":"x","type":"quantitative","scale":{"domain":[292,280],"nice":false,"zero":false},"axis":null},
"y":{"field":"y","type":"quantitative","scale":{"domain":[0,412],"nice":false,"zero":false},"axis":null},
"text":{"field":"t"}}},
{"transform":[{"filter":"datum.c=='ttl'"}],"mark":{"type":"text","align":"center","baseline":"middle","fontSize":19},
"encoding":{"x":{"field":"x","type":"quantitative","scale":{"domain":[292,280],"nice":false,"zero":false},"axis":null},
"y":{"field":"y","type":"quantitative","scale":{"domain":[0,412],"nice":false,"zero":false},"axis":null},
"text":{"field":"t"}}},
{"transform":[{"filter":"datum.c=='let'"}],"mark":{"type":"text","align":"left","baseline":"alphabetic","fontSize":22},
"encoding":{"x":{"field":"x","type":"quantitative","scale":{"domain":[292,280],"nice":false,"zero":false},"axis":null},
"y":{"field":"y","type":"quantitative","scale":{"domain":[0,412],"nice":false,"zero":false},"axis":null},
"text":{"field":"t"}}}
]
},
{
"width":527,"height":412,
"data":{"name":"b"},
"resolve":{"axis":{"x":"independent","y":"independent"}},
"layer":[
{"transform":[{"filter":"datum.c=='bg'"}],"mark":{"type":"line","color":"#8c8c8c","strokeWidth":1.2},
"encoding":{"x":{"field":"x","type":"quantitative","scale":{"domain":[406,396],"nice":false,"zero":false},"axis":{"orient":"bottom","values":[406,404,402,400,398,396],"format":"d","labelFlush":false,"tickSize":8,"tickWidth":1.5,"tickColor":"black","domain":false,"grid":false,"labelFontSize":22,"labelColor":"black","labelPadding":4,"title":"Binding Energy (eV)","titleFontSize":22,"titleFontWeight":"normal","titleColor":"black","titlePadding":12}},
"y":{"field":"y","type":"quantitative","scale":{"domain":[0,412],"nice":false,"zero":false},"axis":{"orient":"left","title":"Counts (a.u.)","labels":false,"ticks":false,"domain":true,"domainColor":"black","domainWidth":1.5,"grid":false,"titleFontSize":22,"titleFontWeight":"normal","titleColor":"black","titlePadding":16,"titleY":238}},
"detail":{"field":"s"}}},
{"transform":[{"filter":"datum.c=='out'"}],"mark":{"type":"line","color":"#a3a3a3","strokeWidth":1.3},
"encoding":{"x":{"field":"x","type":"quantitative","scale":{"domain":[406,396],"nice":false,"zero":false},"axis":{"orient":"bottom","values":[405,403,401,399,397],"tickSize":4,"tickWidth":1.5,"tickColor":"black","labels":false,"domain":false,"grid":false,"title":null}},
"y":{"field":"y","type":"quantitative","scale":{"domain":[0,412],"nice":false,"zero":false},"axis":null},
"detail":{"field":"s"}}},
{"transform":[{"filter":"datum.c=='out'"}],"mark":{"type":"line","color":"#9b2d2d","strokeWidth":1.1,"strokeDash":[4,3]},
"encoding":{"x":{"field":"x","type":"quantitative","scale":{"domain":[406,396],"nice":false,"zero":false},"axis":{"orient":"bottom","values":[404,402,400,398],"tickSize":7,"offset":-7,"tickWidth":1.5,"tickColor":"black","labels":false,"domain":false,"grid":false,"title":null}},
"y":{"field":"y","type":"quantitative","scale":{"domain":[0,412],"nice":false,"zero":false},"axis":null},
"detail":{"field":"s"}}},
{"transform":[{"filter":"indexof(['g','b','r','o'],datum.c)>=0"}],"mark":{"type":"line","strokeWidth":1.2},
"encoding":{"x":{"field":"x","type":"quantitative","scale":{"domain":[406,396],"nice":false,"zero":false},"axis":null},
"y":{"field":"y","type":"quantitative","scale":{"domain":[0,412],"nice":false,"zero":false},"axis":null},
"color":{"field":"c","type":"nominal","scale":{"domain":["g","b","r","o"],"range":["#1c9a1c","#1414e6","#ec1515","#ff9a1a"]},"legend":null},
"detail":{"field":"s"}}},
{"transform":[{"filter":"datum.c=='raw'"}],"mark":{"type":"line","color":"black","strokeWidth":1.2},
"encoding":{"x":{"field":"x","type":"quantitative","scale":{"domain":[406,396],"nice":false,"zero":false},"axis":null},
"y":{"field":"y","type":"quantitative","scale":{"domain":[0,412],"nice":false,"zero":false},"axis":null},
"detail":{"field":"s"}}},
{"transform":[{"filter":"datum.c=='env'"}],"mark":{"type":"line","color":"#b01c1c","strokeWidth":1.2,"strokeDash":[5,3]},
"encoding":{"x":{"field":"x","type":"quantitative","scale":{"domain":[406,396],"nice":false,"zero":false},"axis":null},
"y":{"field":"y","type":"quantitative","scale":{"domain":[0,412],"nice":false,"zero":false},"axis":null},
"detail":{"field":"s"}}},
{"transform":[{"filter":"datum.c=='lab'"}],"mark":{"type":"text","align":"right","baseline":"middle","fontSize":22},
"encoding":{"x":{"field":"x","type":"quantitative","scale":{"domain":[406,396],"nice":false,"zero":false},"axis":null},
"y":{"field":"y","type":"quantitative","scale":{"domain":[0,412],"nice":false,"zero":false},"axis":null},
"text":{"field":"t"}}},
{"transform":[{"filter":"datum.c=='ttl'"}],"mark":{"type":"text","align":"center","baseline":"middle","fontSize":19},
"encoding":{"x":{"field":"x","type":"quantitative","scale":{"domain":[406,396],"nice":false,"zero":false},"axis":null},
"y":{"field":"y","type":"quantitative","scale":{"domain":[0,412],"nice":false,"zero":false},"axis":null},
"text":{"field":"t"}}},
{"transform":[{"filter":"datum.c=='let'"}],"mark":{"type":"text","align":"left","baseline":"alphabetic","fontSize":22},
"encoding":{"x":{"field":"x","type":"quantitative","scale":{"domain":[406,396],"nice":false,"zero":false},"axis":null},
"y":{"field":"y","type":"quantitative","scale":{"domain":[0,412],"nice":false,"zero":false},"axis":null},
"text":{"field":"t"}}}
]
}
]
}
